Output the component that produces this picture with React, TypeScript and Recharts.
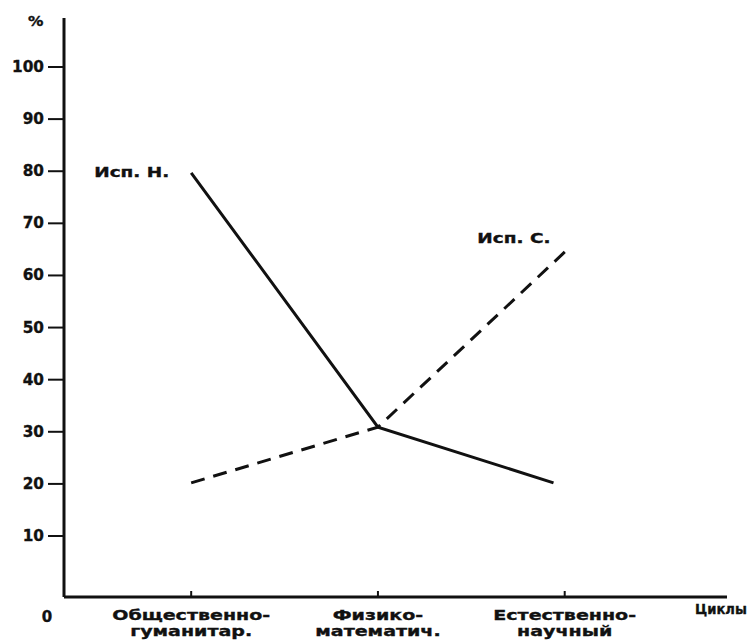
import { LineChart, Line, XAxis, YAxis, LabelList } from 'recharts';

// values
const categories = ['Общественно-\nгуманитар.', 'Физико-\nматематич.', 'Естественно-\nнаучный'];
const categoryPos = [1, 2, 3];
const yTicks = [10, 20, 30, 40, 50, 60, 70, 80, 90, 100];

const seriesN = [
  { x: 1, v: 79.7 },
  { x: 2, v: 30.9 },
  { x: 2.94, v: 20.2 },
];
const seriesS = [
  { x: 1, v: 20.2 },
  { x: 2, v: 30.9 },
  { x: 3.03, v: 65.5 },
];

const FONT = '"DejaVu Sans", sans-serif';

// the scan uses a wide, heavy grotesque; stretch DejaVu Bold horizontally
function WideText({ x, y, anchor = 'start', sx = 1.28, size = 15, children }: any) {
  return (
    <text
      transform={`translate(${x},${y}) scale(${sx},1)`}
      textAnchor={anchor}
      fontFamily={FONT}
      fontWeight={700}
      fontSize={size}
      fill="#111"
      stroke="#111"
      strokeWidth={0.35}
    >
      {children}
    </text>
  );
}

function XTick(props: any) {
  const { x, y, payload } = props;
  const idx = categoryPos.indexOf(payload.value);
  const lines = (categories[idx] || '').split('\n');
  return (
    <g>
      <line x1={x} x2={x} y1={y} y2={y - 6} stroke="#111" strokeWidth={2} />
      {lines.map((t, i) => (
        <WideText key={i} x={x} y={y + 23 + i * 16} anchor="middle" size={14} sx={1.36}>
          {t}
        </WideText>
      ))}
    </g>
  );
}

function YTick(props: any) {
  const { x, y, payload } = props;
  return (
    <g>
      <line x1={x - 16} x2={x} y1={y} y2={y} stroke="#111" strokeWidth={2} />
      <WideText x={x - 20} y={y + 5} anchor="end" sx={1.02}>
        {payload.value}
      </WideText>
    </g>
  );
}

function SeriesLabel(text: string, pick: number, dx: number, dy: number) {
  return (props: any) => {
    const { x, y, index } = props;
    if (index !== pick) return null;
    return (
      <WideText x={x + dx} y={y + dy} size={14} sx={1.32}>
        {text}
      </WideText>
    );
  };
}

export default function App() {
  return (
    <div style={{ position: 'absolute', left: 0, top: 0, width: 749, height: 641, background: '#fff' }}>
      <LineChart
        width={749}
        height={641}
        margin={{ top: 18, right: 22, bottom: 0, left: 0 }}
      >
        <XAxis
          type="number"
          dataKey="x"
          domain={[0.319, 3.869]}
          ticks={categoryPos}
          allowDataOverflow
          height={44}
          tickLine={false}
          tickSize={0}
          tickMargin={0}
          tick={<XTick />}
          axisLine={{ stroke: '#111', strokeWidth: 3 }}
        />
        <YAxis
          type="number"
          domain={[-1.7, 109.4]}
          ticks={yTicks}
          allowDataOverflow
          width={64}
          tickLine={false}
          tickSize={0}
          tickMargin={0}
          tick={<YTick />}
          axisLine={{ stroke: '#111', strokeWidth: 3 }}
        />
        <Line
          data={seriesN}
          dataKey="v"
          type="linear"
          stroke="#111"
          strokeWidth={3}
          dot={false}
          isAnimationActive={false}
        >
          <LabelList dataKey="v" content={SeriesLabel('Исп. Н.', 0, -97, 4)} />
        </Line>
        <Line
          data={seriesS}
          dataKey="v"
          type="linear"
          stroke="#111"
          strokeWidth={3}
          strokeDasharray="14 9"
          dot={false}
          isAnimationActive={false}
        >
          <LabelList dataKey="v" content={SeriesLabel('Исп. С.', 2, -93, -4)} />
        </Line>
      </LineChart>
      <svg width={749} height={641} style={{ position: 'absolute', left: 0, top: 0, pointerEvents: 'none' }}>
        <WideText x={28} y={26} size={14} sx={1.1}>%</WideText>
        <WideText x={47} y={622} anchor="middle" sx={1.0}>0</WideText>
        <WideText x={695} y={614} size={14} sx={0.94}>Циклы</WideText>
      </svg>
    </div>
  );
}
